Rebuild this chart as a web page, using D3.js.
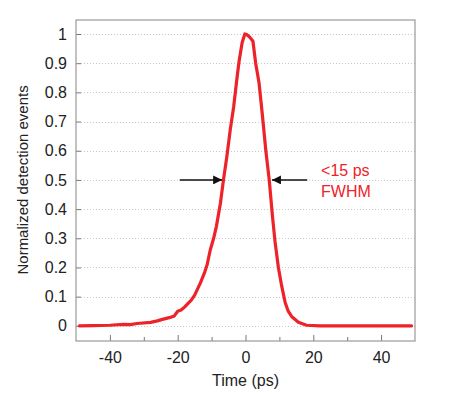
<!DOCTYPE html>
<html>
<head>
<meta charset="utf-8">
<script src="https://cdn.jsdelivr.net/npm/d3@7"></script>
<style>
  body { margin: 0; background: #fff; }
  text { font-family: "Liberation Sans", Arial, sans-serif; fill: #222; }
  .grid line { stroke: #c8c8c8; stroke-dasharray: 1,2; }
  .frame { fill: none; stroke: #999; stroke-width: 1.2; }
  .tick line { stroke: #777; }
  .domain { display: none; }
</style>
</head>
<body>
<div id="chart"></div>
<script>
// time (ps) and normalized counts
var times = [-49, -45, -40, -36, -34, -32, -28, -26, -24.5, -22.5, -21, -20, -19, -18, -16, -15, -13.3, -12, -11.3,
             -10.4, -9.4, -8.6, -7.4, -6.5, -5.5, -4.5, -3.5, -2.5, -1.9, -1, -0.2, 0.4, 1.2, 2.2, 3, 4, 5, 6, 7, 8,
             8.7, 9.7, 10.7, 11.7, 12.6, 13.6, 15.6, 18, 22, 30, 40, 49],
    counts = [0, 0.001, 0.002, 0.005, 0.004, 0.008, 0.012, 0.017, 0.022, 0.028, 0.034, 0.05, 0.054, 0.064, 0.088, 0.105,
              0.147, 0.185, 0.21, 0.26, 0.30, 0.34, 0.42, 0.50, 0.58, 0.672, 0.75, 0.85, 0.906, 0.97, 1.0, 0.998,
              0.99, 0.975, 0.90, 0.832, 0.72, 0.60, 0.50, 0.37, 0.29, 0.20, 0.135, 0.08, 0.05, 0.032, 0.012, 0.002,
              0, 0, 0, 0],
    xMajor = [-40, -20, 0, 20, 40],
    xMinor = [-30, -10, 10, 30],
    yTicks = [0, 0.1, 0.2, 0.3, 0.4, 0.5, 0.6, 0.7, 0.8, 0.9, 1],
    // FWHM arrows: [tail, tip] in ps, at half maximum
    arrowLeft = [-19.4, -6.9],
    arrowRight = [18.2, 7.8],
    halfMax = 0.5,
    noteLines = ["<15 ps", "FWHM"];

var margin = {top: 20, right: 49, bottom: 57, left: 76},
    widthGlobal = 464,
    heightGlobal = 398,
    width = widthGlobal - margin.left - margin.right,
    height = heightGlobal - margin.top - margin.bottom,
    red = "#ee2229",
    fs = "16px";

var x = d3.scaleLinear().domain([-50, 50]).range([0, width]),
    y = d3.scaleLinear().domain([-0.052, 1.048]).range([height, 0]);

var svg = d3.select("#chart").append("svg")
    .attr("width", widthGlobal)
    .attr("height", heightGlobal);
var g = svg.append("g")
    .attr("transform", "translate(" + margin.left + "," + margin.top + ")");

// dotted grid
g.append("g").attr("class", "grid").selectAll("line")
    .data(yTicks)
    .enter().append("line")
    .attr("x1", 5)
    .attr("x2", width)
    .attr("y1", function (d) { return Math.round(y(d)) + 0.5; })
    .attr("y2", function (d) { return Math.round(y(d)) + 0.5; });

// axes, ticks pointing inward
var yAxis = g.append("g")
    .call(d3.axisLeft(y).tickValues(yTicks).tickSizeInner(-5).tickPadding(9)
        .tickFormat(function (d) { return d === 0 || d === 1 ? String(d) : d.toFixed(1); }));
yAxis.selectAll("text").style("font-size", fs).attr("fill", "#222");

var xAxis = g.append("g")
    .attr("transform", "translate(0," + height + ")")
    .call(d3.axisBottom(x).tickValues(xMajor).tickSizeInner(-6).tickPadding(11)
        .tickFormat(function (d) { return String(d); }));
xAxis.selectAll("text").style("font-size", fs).attr("fill", "#222");

g.append("g").selectAll("line")
    .data(xMinor)
    .enter().append("line")
    .attr("x1", function (d) { return x(d) + 0.5; })
    .attr("x2", function (d) { return x(d) + 0.5; })
    .attr("y1", height)
    .attr("y2", height - 4)
    .attr("stroke", "#777");

g.append("rect")
    .attr("class", "frame")
    .attr("x", 0)
    .attr("y", 0)
    .attr("width", width)
    .attr("height", height);

// curve
var pts = times.map(function (t, i) { return [t, counts[i]]; });
g.append("path")
    .datum(pts)
    .attr("fill", "none")
    .attr("stroke", red)
    .attr("stroke-width", 3.2)
    .attr("stroke-linejoin", "round")
    .attr("stroke-linecap", "round")
    .attr("d", d3.line()
        .x(function (d) { return x(d[0]); })
        .y(function (d) { return y(d[1]); }));

// FWHM arrows
svg.append("defs").append("marker")
    .attr("id", "head")
    .attr("viewBox", "0 0 10 10")
    .attr("refX", 10)
    .attr("refY", 5)
    .attr("markerUnits", "userSpaceOnUse")
    .attr("markerWidth", 9)
    .attr("markerHeight", 9)
    .attr("orient", "auto")
    .append("path")
    .attr("d", "M0,0L10,5L0,10z")
    .attr("fill", "#111");

g.selectAll(".arrow")
    .data([arrowLeft, arrowRight])
    .enter().append("line")
    .attr("class", "arrow")
    .attr("x1", function (d) { return x(d[0]); })
    .attr("x2", function (d) { return x(d[1]); })
    .attr("y1", y(halfMax))
    .attr("y2", y(halfMax))
    .attr("stroke", "#111")
    .attr("stroke-width", 1.5)
    .attr("marker-end", "url(#head)");

g.selectAll(".note")
    .data(noteLines)
    .enter().append("text")
    .attr("class", "note")
    .attr("x", x(22.3))
    .attr("y", function (d, i) { return y(halfMax) - 4 + i * 21; })
    .style("font-size", fs)
    .style("fill", red)
    .text(function (d) { return d; });

// axis titles
svg.append("text")
    .attr("x", margin.left + x(0))
    .attr("y", 386)
    .attr("text-anchor", "middle")
    .style("font-size", fs)
    .text("Time (ps)");

svg.append("text")
    .attr("transform", "translate(28," + (margin.top + y(0.5)) + ") rotate(-90)")
    .attr("text-anchor", "middle")
    .style("font-size", "15px")
    .text("Normalized detection events");
</script>
</body>
</html>
